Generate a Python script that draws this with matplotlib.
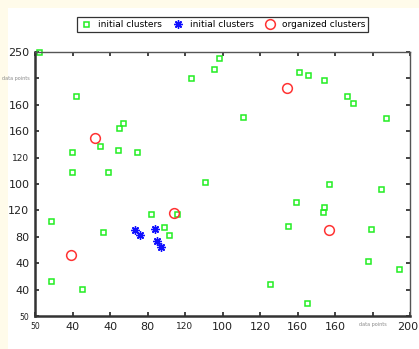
import matplotlib
matplotlib.use("Agg")
import matplotlib.pyplot as plt
import matplotlib.transforms as mtransforms
from matplotlib.patches import Rectangle

# data (x: 0..200, y: 0..250)
green_x = [2.1, 98.0, 95.3, 83.3, 140.8, 145.8, 154.2, 21.8, 46.9, 44.9,
           34.6, 44.2, 19.9, 54.2, 166.5, 169.4, 111.1, 187.0, 19.9, 39.0,
           90.9, 62.0, 75.9, 8.7, 68.6, 36.2, 71.5, 8.7, 25.0, 156.8,
           184.3, 139.2, 154.2, 153.6, 135.1, 179.3, 177.4, 194.0, 125.1, 145.3]
green_y = [250.3, 244.6, 233.9, 225.7, 230.8, 228.5, 223.5, 208.6, 182.8, 178.0,
           161.3, 157.5, 155.0, 155.0, 208.6, 202.0, 188.2, 187.5, 136.4, 136.4,
           126.6, 96.9, 96.9, 89.7, 84.6, 79.5, 77.0, 33.4, 25.3, 124.7,
           120.6, 107.7, 103.5, 98.8, 84.9, 82.1, 52.1, 44.5, 30.6, 12.6]
blue_x = [53.3, 56.1, 63.8, 65.1, 67.4]
blue_y = [81.7, 77.0, 82.7, 71.0, 65.6]
red_x = [31.9, 134.6, 74.0, 156.8, 19.4]
red_y = [168.6, 216.2, 97.5, 81.2, 58.0]

x_ticks = list(range(0, 201, 20))
x_labels = ["50", "40", "40", "80", "120", "100", "120", "160", "160", "data points", "200"]
y_ticks = list(range(0, 251, 25))
y_labels = ["50", "40", "40", "80", "120", "100", "120", "160", "160", "data points", "250"]

fig = plt.figure(figsize=(4.19, 3.49), dpi=100, facecolor="#fffbea")
fig.patches.append(Rectangle((8 / 419, 0), 1, 1 - 8 / 349, transform=fig.transFigure,
                             facecolor="white", edgecolor="none", zorder=-10))
ax = fig.add_axes([35 / 419, 1 - 316 / 349, 375 / 419, 264 / 349])
ax.set_zorder(2)
ax.set_facecolor("white")

ax.plot(green_x, green_y, 's', color='#22ee22', markerfacecolor='none',
        markersize=3.6, markeredgewidth=1.1, label='initial clusters', clip_on=False)
ax.plot(blue_x, blue_y, marker=(8, 2, 0), linestyle='none', color='#1010ff',
        markersize=6, markeredgewidth=1.0, label='initial clusters', clip_on=False)
ax.plot(red_x, red_y, 'o', color='#ff3333', markerfacecolor='none',
        markersize=7, markeredgewidth=1.1, label='organized clusters', clip_on=False)

ax.set_xlim(0, 200)
ax.set_ylim(0, 250)
ax.set_xticks(x_ticks)
ax.set_xticklabels(x_labels)
ax.set_yticks(y_ticks)
ax.set_yticklabels(y_labels)
ax.tick_params(direction='in', top=True, right=True, length=3, width=1.2,
               labelsize=8, colors='#222222', pad=4)

for lab in ax.get_xticklabels() + ax.get_yticklabels():
    if lab.get_text() == "data points":
        lab.set_fontsize(3.5)
        lab.set_color('#888888')
    elif lab.get_text() == "50":
        lab.set_fontsize(5.5)
ax.get_xticklabels()[4].set_fontsize(6.5)
ax.get_yticklabels()[6].set_fontsize(6.5)
last = ax.get_xticklabels()[-1]
last.set_transform(last.get_transform() + mtransforms.ScaledTranslation(-2 / 100, 0, fig.dpi_scale_trans))

for side in ('left', 'bottom'):
    ax.spines[side].set_linewidth(1.8)
    ax.spines[side].set_color('#333333')
for side in ('top', 'right'):
    ax.spines[side].set_linewidth(1.0)
    ax.spines[side].set_color('#555555')

leg = fig.legend(loc='center', bbox_to_anchor=(222.5 / 419, 1 - 24.5 / 349), ncol=3,
                 fontsize=6.5, frameon=True, fancybox=False, edgecolor='black',
                 handletextpad=0.6, columnspacing=1.0, handlelength=1.5, borderpad=0.3)
leg.get_frame().set_linewidth(0.9)

fig.savefig("out.png", dpi=100, facecolor=fig.get_facecolor())
